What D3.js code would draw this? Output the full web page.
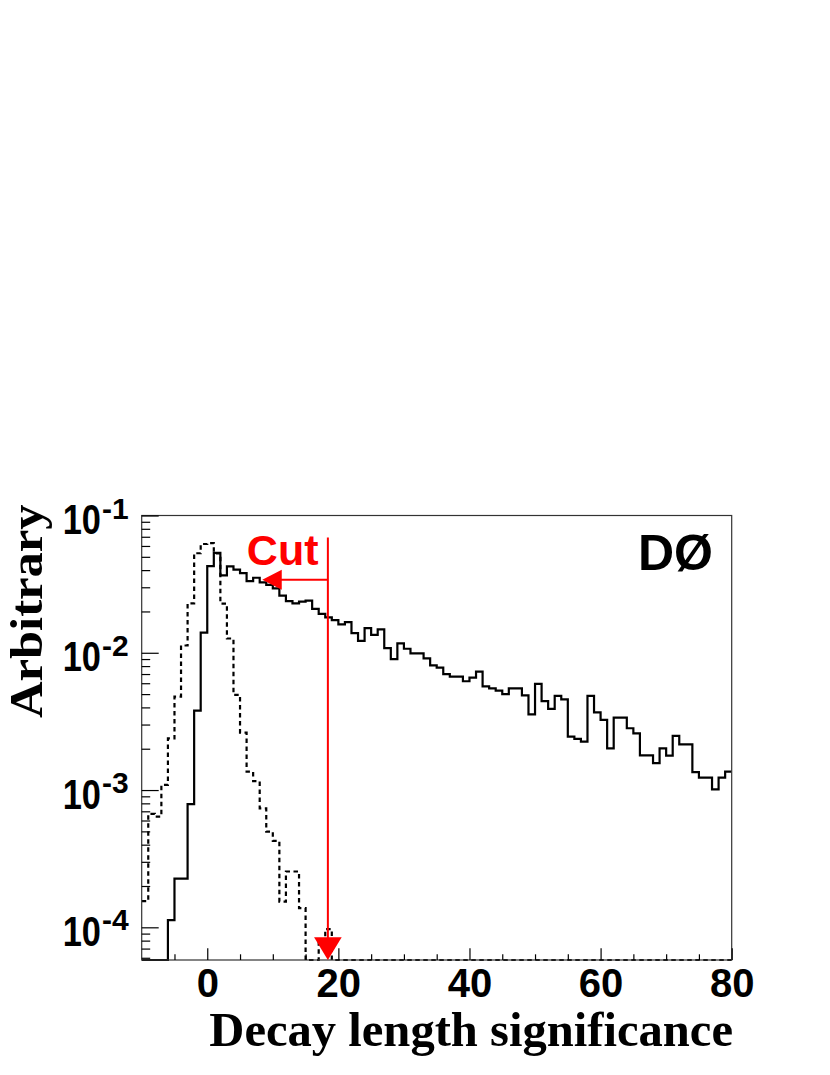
<!DOCTYPE html>
<html><head><meta charset="utf-8">
<script src="https://cdn.jsdelivr.net/npm/d3@7"></script>
<style>body{margin:0;background:#fff} svg{display:block}</style>
</head><body><svg id="c" width="830" height="1075"></svg>
<script>
// ---- data ----
const binStart = -10, binWidth = 1;
const signal = [
  0, 0, 0, 0, 1.13e-4, 2.26e-4, 2.26e-4, 7.9e-4, 3.79e-3, 0.0140,
  0.0428, 0.0535, 0.0366, 0.0426, 0.0403, 0.0381, 0.0333, 0.0352, 0.0326, 0.0312,
  0.0295, 0.0261, 0.0238, 0.0229, 0.0236, 0.0240, 0.0209, 0.0192, 0.0181, 0.0173,
  0.0161, 0.0167, 0.0139, 0.0122, 0.0151, 0.0135, 0.0148, 0.0108, 0.0090, 0.0117,
  0.0107, 0.0099, 0.0099, 0.0091, 0.0081, 0.0078, 0.0070, 0.0067, 0.0067, 0.0062,
  0.0066, 0.0073, 0.0057, 0.0055, 0.0053, 0.0050, 0.0055, 0.0055, 0.0049, 0.00356,
  0.00593, 0.00445, 0.0039, 0.00485, 0.00458, 0.00245, 0.00236, 0.00225, 0.00485, 0.00368,
  0.00324, 0.00201, 0.00337, 0.00337, 0.00282, 0.00259, 0.00179, 0.00179, 0.00157, 0.00201,
  0.00178, 0.00248, 0.00215, 0.00215, 0.00135, 0.00123, 0.00123, 0.00101, 0.00123, 0.00136
];
const background = [
  1.55e-4, 6.7e-4, 6.4e-4, 1.09e-3, 2.38e-3, 4.8e-3, 0.0113, 0.0229, 0.0531, 0.0620,
  0.0630, 0.0530, 0.0228, 0.0127, 0.00493, 0.00262, 0.00136, 0.00116, 7.36e-4, 4.98e-4,
  4.26e-4, 1.54e-4, 2.55e-4, 2.55e-4, 1.38e-4, 0, 0, 7.7e-5, 9.7e-5, 0,
  0, 0, 0, 0, 0, 0, 0, 0, 0, 0,
  0, 0, 0, 0, 0, 0, 0, 0, 0, 0,
  0, 0, 0, 0, 0, 0, 0, 0, 0, 0,
  0, 0, 0, 0, 0, 0, 0, 0, 0, 0,
  0, 0, 0, 0, 0, 0, 0, 0, 0, 0,
  0, 0, 0, 0, 0, 0, 0, 0, 0, 0
];
const xDomain = [-10, 80];
const yDomain = [5.78e-5, 0.1];
const xTickLabels = [0, 20, 40, 60, 80];
const xMinorTicks = [-5, 5, 10, 15, 25, 30, 35, 45, 50, 55, 65, 70, 75];
const yTickValues = [1e-1, 1e-2, 1e-3, 1e-4];
const yTickExponents = ["-1", "-2", "-3", "-4"];
const cutValue = 18.4;
const cutLineTop = 0.069;
const cutArrowLevel = 0.0341;
const cutArrowEnd = 8.4;
const xTitle = "Decay length significance";
const yTitle = "Arbitrary";

// ---- layout ----
const L = 141.7, R = 731.7, T = 515.5, B = 960;
const svg = d3.select("#c");
const x = d3.scaleLinear().domain(xDomain).range([L, R]);
const y = d3.scaleLog().domain(yDomain).range([B, T]);

svg.append("defs").append("clipPath").attr("id", "clip")
  .append("rect").attr("x", L).attr("y", T).attr("width", R - L).attr("height", B - T + 1);

function histPoints(vals) {
  const pts = vals.map((v, i) => [binStart + i * binWidth, v]);
  pts.push([binStart + vals.length * binWidth, vals[vals.length - 1]]);
  return pts;
}
const line = d3.line()
  .x(d => x(d[0]))
  .y(d => y(Math.max(d[1], yDomain[0])))
  .curve(d3.curveStepAfter);

const plot = svg.append("g").attr("clip-path", "url(#clip)");
plot.append("path").attr("d", line(histPoints(background)))
  .attr("fill", "none").attr("stroke", "#000").attr("stroke-width", 2.2)
  .attr("stroke-dasharray", "4.5,3.5");
plot.append("path").attr("d", line(histPoints(signal)))
  .attr("fill", "none").attr("stroke", "#000").attr("stroke-width", 2.2);

// frame
svg.append("rect").attr("x", L).attr("y", T).attr("width", R - L).attr("height", B - T)
  .attr("fill", "none").attr("stroke", "#333").attr("stroke-width", 1.2);

// x axis
const gx = svg.append("g").attr("transform", `translate(0,${B})`);
gx.call(d3.axisBottom(x).tickValues(xMinorTicks).tickSizeInner(-5.7).tickSizeOuter(0).tickFormat(""));
gx.call(g => g.select(".domain").remove());
const gx2 = svg.append("g").attr("transform", `translate(0,${B})`);
gx2.call(d3.axisBottom(x).tickValues(xTickLabels).tickSizeInner(-11.7).tickSizeOuter(0).tickPadding(9).tickFormat(d3.format("d")));
gx2.select(".domain").remove();
gx2.selectAll("text").attr("font-family", "Liberation Sans, Arial, sans-serif")
  .attr("font-weight", "bold").attr("font-size", 40).attr("fill", "#000");

// y axis ticks
const yMinor = [];
[-5, -4, -3, -2].forEach(e => { for (let m = 2; m <= 9; m++) { const v = m * Math.pow(10, e); if (v >= yDomain[0] && v <= yDomain[1]) yMinor.push(v); } });
const gy = svg.append("g").attr("transform", `translate(${L},0)`);
gy.call(d3.axisLeft(y).tickValues(yMinor).tickSizeInner(-8.5).tickSizeOuter(0).tickFormat(""));
gy.select(".domain").remove();
const gy2 = svg.append("g").attr("transform", `translate(${L},0)`);
gy2.call(d3.axisLeft(y).tickValues(yTickValues).tickSizeInner(-17).tickSizeOuter(0).tickFormat(""));
gy2.select(".domain").remove();
svg.selectAll(".tick line").attr("stroke", "#000").attr("stroke-width", 1.2);

// y tick labels with superscripts
yTickValues.forEach((v, i) => {
  const ty = y(v);
  svg.append("text").attr("transform", `translate(101,${ty + 18.5}) scale(0.86,1.04)`).attr("text-anchor", "end")
    .attr("font-family", "Liberation Sans, Arial, sans-serif").attr("font-weight", "bold")
    .attr("font-size", 40).attr("fill", "#000").text("10");
  svg.append("text").attr("x", 102).attr("y", ty + 3).attr("text-anchor", "start")
    .attr("font-family", "Liberation Sans, Arial, sans-serif").attr("font-weight", "bold")
    .attr("font-size", 30).attr("fill", "#000").text(yTickExponents[i]);
});

// axis titles
svg.append("text").attr("x", 733).attr("y", 1046).attr("text-anchor", "end")
  .attr("font-family", "Liberation Serif, Times New Roman, serif").attr("font-weight", "bold")
  .attr("font-size", 48.6).attr("fill", "#000").text(xTitle);
svg.append("text").attr("transform", "translate(42,718) rotate(-90) scale(1.1,1)").attr("text-anchor", "start")
  .attr("font-family", "Liberation Serif, Times New Roman, serif").attr("font-weight", "bold")
  .attr("font-size", 46).attr("fill", "#000").text(yTitle);

// DØ label
svg.append("text").attr("x", 713).attr("y", 569.5).attr("text-anchor", "end")
  .attr("font-family", "Liberation Sans, Arial, sans-serif").attr("font-weight", "bold")
  .attr("font-size", 50).attr("fill", "#000").text("DØ");

// cut annotation
const red = "#ff0000";
const cx = x(cutValue);
svg.append("line").attr("x1", cx).attr("x2", cx).attr("y1", y(cutLineTop)).attr("y2", B - 20)
  .attr("stroke", red).attr("stroke-width", 2);
svg.append("path").attr("d", `M${cx - 13.8},${B - 22.7} L${cx + 13.8},${B - 22.7} L${cx},${B} Z`).attr("fill", red);
const ay = y(cutArrowLevel), ax = x(cutArrowEnd);
svg.append("line").attr("x1", cx).attr("x2", ax + 18).attr("y1", ay).attr("y2", ay)
  .attr("stroke", red).attr("stroke-width", 2);
svg.append("path").attr("d", `M${ax},${ay} L${ax + 19.4},${ay - 10} L${ax + 19.4},${ay + 10} Z`).attr("fill", red);
svg.append("text").attr("x", 318.5).attr("y", 565).attr("text-anchor", "end")
  .attr("font-family", "Liberation Sans, Arial, sans-serif").attr("font-weight", "bold")
  .attr("font-size", 43).attr("fill", red).text("Cut");
</script>
</body></html>
